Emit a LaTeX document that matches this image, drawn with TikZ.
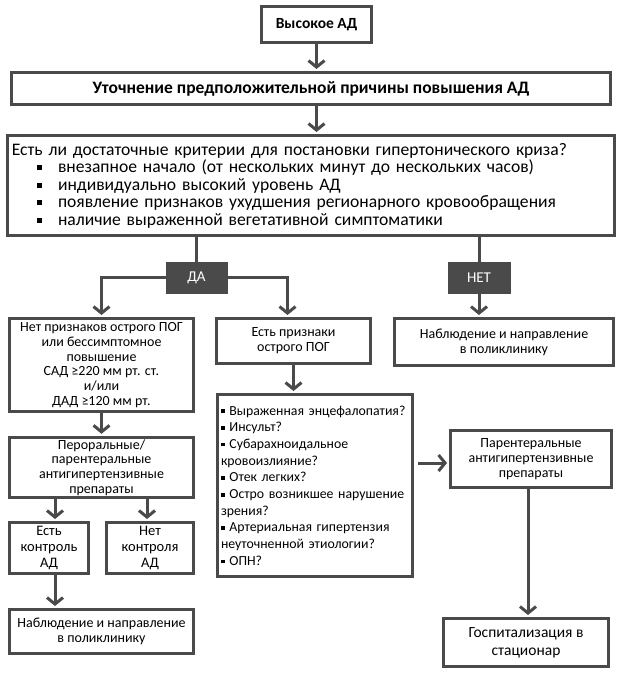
\documentclass[tikz,border=0pt]{standalone}
\usepackage{fontspec}
\setmainfont{Carlito}
\usetikzlibrary{arrows.meta}
\definecolor{lc}{HTML}{4A4A4A}
\definecolor{dk}{HTML}{4A4A4A}
\newcommand\bsq{\raisebox{2.5pt}{\rule{5pt}{5pt}}}
\newcommand\lsq{\raisebox{2pt}{\rule{3.8pt}{3.8pt}}}
\tikzset{
  box/.style={draw=lc, line width=3pt, align=center, inner sep=2pt,
    font=\fontsize{14}{14.8}\selectfont, text=black},
  tag/.style={fill=dk, draw=dk, line width=0pt, text=white, inner sep=0pt,
    font=\fontsize{15}{16}\selectfont},
  conn/.style={draw=lc, line width=3pt},
  arr/.style={draw=lc, line width=3pt, shorten >=2pt,
    -{Straight Barb[length=6.5pt,width=16pt,line width=3pt]}},
}
\begin{document}
\begin{tikzpicture}[x=1pt,y=-1pt]
\useasboundingbox (0,0) rectangle (623,676);
\fill[white] (0,0) rectangle (623,676);
% boxes
\node[box, minimum width=110pt, minimum height=36pt, font=\fontsize{15.5}{17}\selectfont\bfseries] (b1) at (316.5,24.5) {Высокое АД};
\node[box, minimum width=599pt, minimum height=32pt, font=\fontsize{17.5}{19}\selectfont\bfseries] (b2) at (311,88.5) {Уточнение предположительной причины повышения АД};
\node[box, minimum width=607pt, minimum height=100pt, text width=598pt, inner sep=3pt, align=left, font=\fontsize{17.6}{17.5}\selectfont] (b3) at (311,185.5) {Есть ли достаточные критерии для постановки гипертонического криза?\\
\makebox[46pt][l]{\hspace{25pt}\bsq}внезапное начало (от нескольких минут до нескольких часов)\\
\makebox[46pt][l]{\hspace{25pt}\bsq}индивидуально высокий уровень АД\\
\makebox[46pt][l]{\hspace{25pt}\bsq}появление признаков ухудшения регионарного кровообращения\\
\makebox[46pt][l]{\hspace{25pt}\bsq}наличие выраженной вегетативной симптоматики};
\node[tag, minimum width=61pt, minimum height=31pt] (da) at (196.5,277.5) {ДА};
\node[tag, minimum width=62pt, minimum height=31pt] (net) at (479,277.5) {НЕТ};
\node[box, minimum width=184pt, minimum height=93pt] (nopog) at (101.5,365) {Нет признаков острого ПОГ\\или бессимптомное\\повышение\\САД ≥220 мм рт. ст.\\и/или\\ДАД ≥120 мм рт.};
\node[box, minimum width=154pt, minimum height=45pt] (yespog) at (293.5,341) {Есть признаки\\острого ПОГ};
\node[box, minimum width=219pt, minimum height=47pt] (obs1) at (504,342) {Наблюдение и направление\\в поликлинику};
\node[box, minimum width=195pt, minimum height=182pt, text width=188pt, align=left, inner sep=2pt, font=\fontsize{13.8}{16.7}\selectfont] (list) at (315,485.5) {\lsq{} Выраженная энцефалопатия?\\
\lsq{} Инсульт?\\
\lsq{} Субарахноидальное\\
кровоизлияние?\\
\lsq{} Отек легких?\\
\lsq{} Остро возникшее нарушение\\
зрения?\\
\lsq{} Артериальная гипертензия\\
неуточненной этиологии?\\
\lsq{} ОПН?};
\node[box, minimum width=184pt, minimum height=54pt] (peror) at (101.5,467.5) {Пероральные/\\парентеральные\\антигипертензивные\\препараты};
\node[box, minimum width=79pt, minimum height=51pt, font=\fontsize{14.5}{16}\selectfont] (ctrl) at (49,548) {Есть\\контроль\\АД};
\node[box, minimum width=87pt, minimum height=51pt, font=\fontsize{14.5}{16}\selectfont] (noctrl) at (150,548) {Нет\\контроля\\АД};
\node[box, minimum width=184pt, minimum height=44pt] (obs2) at (101.5,631.5) {Наблюдение и направление\\в поликлинику};
\node[box, minimum width=161pt, minimum height=57pt] (parent) at (531,459) {Парентеральные\\антигипертензивные\\препараты};
\node[box, minimum width=165pt, minimum height=48pt, font=\fontsize{15.5}{18}\selectfont] (hosp) at (526,642.5) {Госпитализация в\\стационар};
% connectors
\draw[arr] (b1.south) -- (b1.south |- b2.north);
\draw[arr] (b1.south |- b2.south) -- (b1.south |- b3.north);
\draw[conn] (da.north |- b3.south) -- (da.north);
\draw[conn] (net.north |- b3.south) -- (net.north);
\draw[arr] (da.west) -| ([xshift=0pt]nopog.north);
\draw[arr] (da.east) -| ([xshift=-6pt]yespog.north);
\draw[arr] (net.south) -- (net.south |- obs1.north);
\draw[arr] (yespog.south) -- (yespog.south |- list.north);
\draw[arr] (nopog.south) -- (nopog.south |- peror.north);
\draw[arr] ([xshift=6pt]ctrl.north |- peror.south) -- ([xshift=6pt]ctrl.north);
\draw[arr] ([xshift=-3pt]noctrl.north |- peror.south) -- ([xshift=-3pt]noctrl.north);
\draw[arr] ([xshift=6pt]ctrl.south) -- ([xshift=6pt]ctrl.south |- obs2.north);
\draw[arr, shorten <=4pt] ([yshift=-4pt]list.east |- parent.west) -- ([yshift=-4pt]parent.west);
\draw[arr] ([xshift=-3pt]parent.south) -- ([xshift=-3pt]parent.south |- hosp.north);
\end{tikzpicture}
\end{document}
